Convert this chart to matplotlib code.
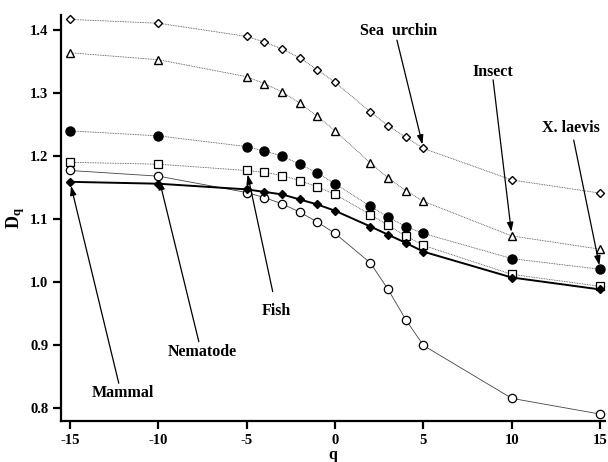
import matplotlib
matplotlib.use("Agg")
import matplotlib.pyplot as plt

plt.rcParams['axes.unicode_minus'] = False
plt.rcParams['font.family'] = ['Liberation Serif', 'DejaVu Serif']
plt.rcParams['mathtext.fontset'] = 'custom'
plt.rcParams['mathtext.rm'] = 'Liberation Serif'
plt.rcParams['mathtext.bf'] = 'Liberation Serif:bold'

q = [-15, -10, -5, -4, -3, -2, -1, 0, 2, 3, 4, 5, 10, 15]

sea_urchin = [1.417, 1.411, 1.390, 1.381, 1.370, 1.356, 1.337, 1.317, 1.270, 1.248, 1.230, 1.212, 1.162, 1.141]
insect = [1.364, 1.353, 1.326, 1.315, 1.302, 1.284, 1.263, 1.240, 1.189, 1.165, 1.145, 1.128, 1.073, 1.052]
x_laevis = [1.240, 1.232, 1.215, 1.208, 1.200, 1.187, 1.173, 1.156, 1.120, 1.103, 1.088, 1.077, 1.037, 1.020]
fish = [1.190, 1.187, 1.177, 1.174, 1.169, 1.161, 1.151, 1.139, 1.107, 1.090, 1.073, 1.058, 1.012, 0.993]
mammal = [1.159, 1.156, 1.147, 1.143, 1.139, 1.131, 1.123, 1.113, 1.088, 1.075, 1.062, 1.048, 1.007, 0.988]
nematode = [1.177, 1.168, 1.142, 1.134, 1.124, 1.111, 1.095, 1.077, 1.030, 0.988, 0.940, 0.899, 0.815, 0.790]

xticks = [-15, -10, -5, 0, 5, 10, 15]
xticklabels = ['-15', '-10', '-5', '0', '5', '10', '15']
yticks = [0.8, 0.9, 1.0, 1.1, 1.2, 1.3, 1.4]
yticklabels = ['0.8', '0.9', '1.0', '1.1', '1.2', '1.3', '1.4']

fig = plt.figure(figsize=(6.08, 4.62), dpi=100)
ax = fig.add_axes([0.1003, 0.0887, 0.895, 0.8788])

dot = (0, (1, 1))
lc = '#444444'
ax.plot(q, sea_urchin, linestyle=dot, color=lc, lw=0.6, marker='D', ms=4.2,
        mfc='white', mec='black', mew=1.0, zorder=3)
ax.plot(q, insect, linestyle=dot, color=lc, lw=0.6, marker='^', ms=6,
        mfc='white', mec='black', mew=1.0, zorder=3)
ax.plot(q, x_laevis, linestyle=dot, color=lc, lw=0.6, marker='o', ms=6.5,
        mfc='black', mec='black', zorder=3)
ax.plot(q, fish, linestyle=dot, color=lc, lw=0.6, marker='s', ms=5.5,
        mfc='white', mec='black', mew=0.9, zorder=3)
ax.plot(q, nematode, linestyle='-', color=lc, lw=0.6, marker='o', ms=6,
        mfc='white', mec='black', mew=0.9, zorder=3)
ax.plot(q, mammal, linestyle='-', color='black', lw=1.4, marker='D', ms=4.5,
        mfc='black', mec='black', zorder=4)

ax.set_xlim(-15.51, 15.28)
ax.set_ylim(0.779, 1.424)
ax.set_xticks(xticks)
ax.set_xticklabels(xticklabels)
ax.set_yticks(yticks)
ax.set_yticklabels(yticklabels)
for lab in ax.get_xticklabels() + ax.get_yticklabels():
    lab.set_fontweight('bold')
    lab.set_fontsize(10.5)
ax.tick_params(direction='out', length=6, width=1.6, pad=3)
for s in ['top', 'right']:
    ax.spines[s].set_visible(False)
for s in ['left', 'bottom']:
    ax.spines[s].set_linewidth(1.6)

ax.set_xlabel('q', fontweight='bold', fontsize=11.5, labelpad=0)
ax.set_ylabel(r'$\mathbf{D_q}$', fontsize=13, labelpad=2)

arrow = dict(arrowstyle='-|>,head_length=0.5,head_width=0.17', color='black',
             lw=0.9, mutation_scale=11, shrinkA=0, shrinkB=3)
tfont = dict(fontweight='bold', fontsize=11.5, ha='center', va='center')

def ann(text, series, idx, tx, ty, sx, sy):
    ax.annotate('', xy=(q[idx], series[idx]), xytext=(sx, sy),
                textcoords='data', arrowprops=arrow)
    ax.text(tx, ty, text, **tfont)

ann('Sea  urchin', sea_urchin, 11, 3.57, 1.398, 3.5, 1.384)
ann('Insect', insect, 12, 8.94, 1.334, 8.94, 1.321)
ann('X. laevis', x_laevis, 13, 13.36, 1.244, 13.5, 1.2254)
ann('Fish', fish, 2, -3.34, 0.9544, -3.53, 0.9846)
ann('Nematode', nematode, 1, -7.53, 0.889, -7.71, 0.905)
ann('Mammal', mammal, 0, -12.0, 0.8233, -12.24, 0.839)

fig.savefig('out.png', dpi=100)
